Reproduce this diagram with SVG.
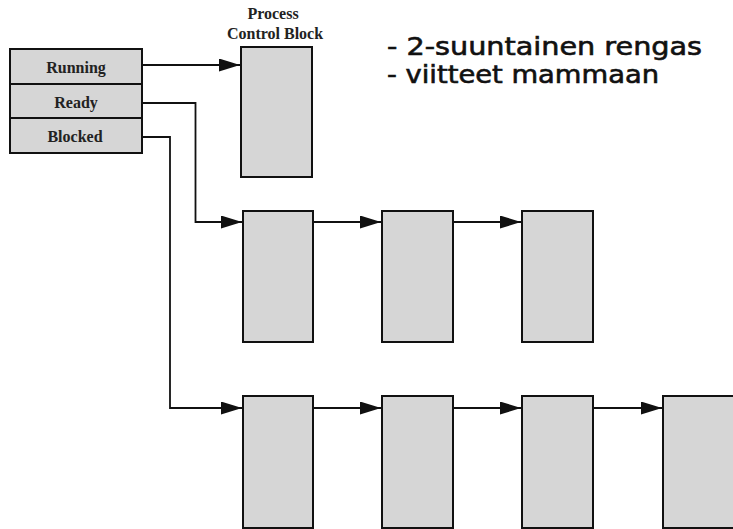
<svg xmlns="http://www.w3.org/2000/svg" width="733" height="529" viewBox="0 0 733 529">
<style>
.box{fill:#d6d6d6;stroke:#111;stroke-width:2}
.cell{fill:#d6d6d6;stroke:#111;stroke-width:2}
.lbl{font-family:"Liberation Serif","Times New Roman",serif;font-weight:bold;font-size:16px;fill:#222;text-anchor:middle}
.note{font-family:"DejaVu Sans",sans-serif;font-size:24px;fill:#111;stroke:#111;stroke-width:0.6}
.conn{fill:none;stroke:#111;stroke-width:1.8}
</style>
<defs>
<marker id="ah" markerUnits="userSpaceOnUse" markerWidth="22" markerHeight="14" refX="21" refY="6.5" orient="auto">
<polygon points="0,0 21,6.5 0,13" fill="#111"/>
</marker>
</defs>
<rect width="733" height="529" fill="#fff"/>
<g id="states">
<rect class="cell" x="10" y="49" width="132" height="35"/>
<rect class="cell" x="10" y="84" width="132" height="34"/>
<rect class="cell" x="10" y="118" width="132" height="35"/>
<text class="lbl" x="76" y="73">Running</text>
<text class="lbl" x="76" y="108">Ready</text>
<text class="lbl" x="75" y="142">Blocked</text>
</g>
<g id="pcb-title">
<text class="lbl" x="273" y="19">Process</text>
<text class="lbl" x="275" y="39">Control Block</text>
</g>
<g id="notes">
<text class="note" x="387" y="55" textLength="315" lengthAdjust="spacingAndGlyphs">- 2-suuntainen rengas</text>
<text class="note" x="387" y="83" textLength="272" lengthAdjust="spacingAndGlyphs">- viitteet mammaan</text>
</g>
<g id="pcb-running"><rect class="box" x="241" y="47" width="71" height="130"/></g>
<g id="ready-1"><rect class="box" x="243" y="211" width="70" height="131"/></g>
<g id="ready-2"><rect class="box" x="382" y="211" width="71" height="131"/></g>
<g id="ready-3"><rect class="box" x="522" y="211" width="71" height="131"/></g>
<g id="blocked-1"><rect class="box" x="243" y="396" width="70" height="132"/></g>
<g id="blocked-2"><rect class="box" x="382" y="396" width="71" height="132"/></g>
<g id="blocked-3"><rect class="box" x="522" y="396" width="71" height="132"/></g>
<g id="blocked-4"><rect class="box" x="663" y="396" width="72" height="132"/></g>
<g id="connectors">
<path class="conn" d="M142,65 H240" marker-end="url(#ah)"/>
<path class="conn" d="M142,103 H195.5 V222 H242" marker-end="url(#ah)"/>
<path class="conn" d="M313,222 H381" marker-end="url(#ah)"/>
<path class="conn" d="M453,222 H521" marker-end="url(#ah)"/>
<path class="conn" d="M142,137 H170 V408 H242" marker-end="url(#ah)"/>
<path class="conn" d="M313,408 H381" marker-end="url(#ah)"/>
<path class="conn" d="M453,408 H521" marker-end="url(#ah)"/>
<path class="conn" d="M593,408 H662" marker-end="url(#ah)"/>
</g>
</svg>
